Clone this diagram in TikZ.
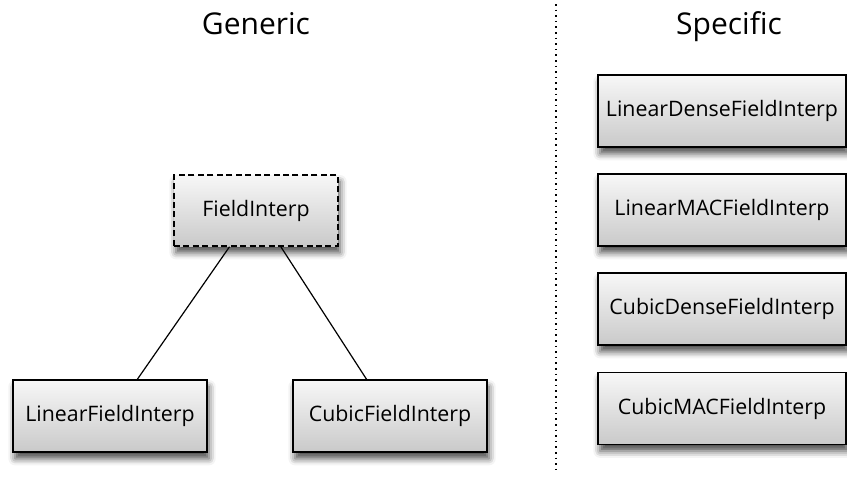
\documentclass[tikz,border=0pt]{standalone}
\usepackage{fontspec}
\setmainfont{Open Sans}
\usetikzlibrary{positioning,calc,shadows.blur}

\begin{document}
\begin{tikzpicture}[x=0.75pt,y=-0.75pt,
    every node/.style={inner sep=0pt,font=\fontsize{16}{19}\selectfont},
    classbox/.style={draw=black,line width=1.1pt,top color=gray!6,bottom color=gray!42,
      blur shadow={shadow xshift=1.5pt,shadow yshift=-5pt,shadow blur radius=5pt,shadow opacity=70},
      minimum height=54pt},
    genbox/.style={classbox,minimum width=145.5pt},
    specbox/.style={classbox,minimum width=186pt},
    abstract/.style={classbox,dash pattern=on 4.5pt off 2.6pt,minimum width=123pt,minimum height=53.25pt},
    title/.style={anchor=base,font=\fontsize{22.5}{26}\selectfont},
    link/.style={line width=0.9pt}]
  \useasboundingbox (0,0) rectangle (847,476);
  \node[title] (generic) at (256,34) {Generic};
  \node[title] (specific) at (729,34) {Specific};
  \coordinate (top) at (556,4);
  \coordinate (bottom) at (556,470);
  \draw[line width=1.3pt,dash pattern=on 1.2pt off 3pt] (top) -- (bottom);
  \node[abstract] (field) at (256,210.5) {FieldInterp};
  \node[genbox] (linear) at (110,416) {LinearFieldInterp};
  \node[genbox] (cubic) at (390,416) {CubicFieldInterp};
  \draw[link] ($(field.south west)!0.34!(field.south east)$) -- ($(linear.north west)!0.64!(linear.north east)$);
  \draw[link] ($(field.south west)!0.65!(field.south east)$) -- ($(cubic.north west)!0.38!(cubic.north east)$);
  \node[specbox] (lindense) at (722,111) {LinearDenseFieldInterp};
  \node[specbox] (linmac) at (722,210) {LinearMACFieldInterp};
  \node[specbox] (cubdense) at (722,309) {CubicDenseFieldInterp};
  \node[specbox] (cubmac) at (722,408.5) {CubicMACFieldInterp};
\end{tikzpicture}
\end{document}
